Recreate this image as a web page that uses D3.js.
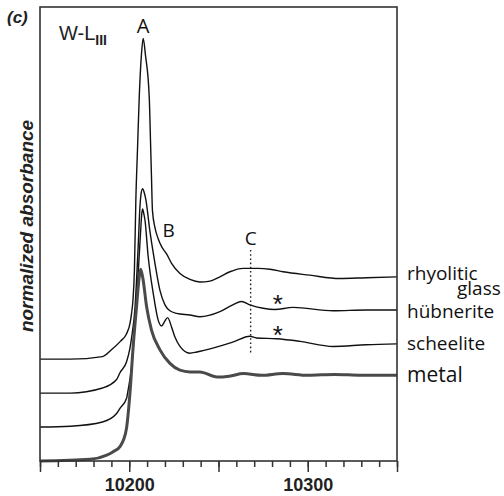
<!DOCTYPE html>
<html>
<head>
<meta charset="utf-8">
<script src="https://cdn.jsdelivr.net/npm/d3@7"></script>
<style>
  html, body { margin: 0; padding: 0; background: #fff; }
  svg { display: block; }
</style>
</head>
<body>
<svg id="chart" width="504" height="496"></svg>
<script>
// W L-III edge XANES spectra, normalized absorbance (stacked with vertical offsets)
const seriesNames = ["rhyolitic glass", "hübnerite", "scheelite", "metal"];
const seriesOffsets = [1.2, 0.8, 0.4, 0.0];

const rhyoliticE = [10150, 10167, 10185, 10190, 10195, 10198.5, 10200.4, 10201.3, 10202.1, 10202.9, 10203.7, 10204.6, 10205.6, 10206.8, 10207.8, 10209.1, 10211.2, 10211.9, 10212.5, 10213.0, 10214.4, 10216.2, 10218.3, 10220.9, 10223.7, 10228.4, 10234, 10239.6, 10245.2, 10250.8, 10256.4, 10263.8, 10272.2, 10278.8, 10286.2, 10301.1, 10317.9, 10332.8, 10350];
const rhyoliticMu = [0.00, 0.00, 0.03, 0.11, 0.21, 0.30, 0.42, 0.54, 0.70, 1.05, 1.88, 2.46, 3.09, 3.58, 3.78, 3.58, 3.09, 2.58, 2.11, 1.75, 1.55, 1.42, 1.32, 1.24, 1.13, 1.01, 0.94, 0.91, 0.92, 0.97, 1.03, 1.07, 1.07, 1.06, 1.03, 0.99, 0.95, 0.96, 0.97];

const hubneriteE = [10150, 10167, 10185, 10192.9, 10194.8, 10198.5, 10200.4, 10201.3, 10203.2, 10205.0, 10206.0, 10206.7, 10207.5, 10208.3, 10209.3, 10211.5, 10214.4, 10217.2, 10220.0, 10222.8, 10226.5, 10234, 10239.6, 10250.8, 10258.0, 10262.9, 10267.6, 10275.0, 10281.5, 10291.8, 10314.2, 10332.8, 10350];
const hubneriteMu = [0.00, 0.00, 0.06, 0.16, 0.24, 0.37, 0.53, 0.65, 1.00, 1.73, 2.20, 2.36, 2.41, 2.37, 2.28, 1.92, 1.53, 1.21, 1.04, 0.97, 0.94, 0.92, 0.90, 0.96, 1.04, 1.08, 1.04, 1.00, 0.985, 1.01, 0.97, 0.98, 0.98];

const scheeliteE = [10150, 10167, 10185, 10192.9, 10194.8, 10198.5, 10199.4, 10201.3, 10202.6, 10204.0, 10205.0, 10206.4, 10207.0, 10207.5, 10208.1, 10208.8, 10210.6, 10213.4, 10216.2, 10218.1, 10219.7, 10221.5, 10223.7, 10225.6, 10228.4, 10234.0, 10237.9, 10246.8, 10258.0, 10267.6, 10271.3, 10282.5, 10295.5, 10314.2, 10332.8, 10350];
const scheeliteMu = [0.00, 0.01, 0.06, 0.16, 0.22, 0.34, 0.44, 0.71, 1.03, 1.50, 1.81, 2.32, 2.51, 2.57, 2.52, 2.44, 2.01, 1.58, 1.26, 1.19, 1.24, 1.29, 1.18, 1.06, 0.95, 0.87, 0.885, 0.93, 1.00, 1.07, 1.05, 1.04, 1.01, 0.95, 0.97, 0.98];

const metalE = [10150, 10178.0, 10187.4, 10191.0, 10194.8, 10196.8, 10198.5, 10200.4, 10202.2, 10204.1, 10205.6, 10206.4, 10207.8, 10209.7, 10212.5, 10217.2, 10222.8, 10228.4, 10234.0, 10239.6, 10249.1, 10256.0, 10264.0, 10274.3, 10286.0, 10300.0, 10315.0, 10330.0, 10350];
const metalMu = [0.00, 0.02, 0.07, 0.11, 0.17, 0.25, 0.39, 0.80, 1.35, 1.82, 2.17, 2.26, 2.13, 1.82, 1.54, 1.31, 1.15, 1.07, 1.05, 1.05, 0.99, 1.00, 1.03, 1.01, 1.03, 1.01, 1.02, 1.01, 1.01];

const energyMajorTicks = [10150, 10200, 10250, 10300, 10350];
const energyTickLabels = [10200, 10300];
const featureC = 10268;

const energies = [rhyoliticE, hubneriteE, scheeliteE, metalE];
const absorbance = [rhyoliticMu, hubneriteMu, scheeliteMu, metalMu];

const svg = d3.select("#chart");
const plotLeft = 40, plotRight = 397, plotTop = 7, plotBottom = 461;

const x = d3.scaleLinear().domain([10150, 10350]).range([plotLeft, plotRight]);
const y = d3.scaleLinear().domain([0, 5.35]).range([plotBottom, plotTop]);

// Spectra
const line = d3.line()
  .x(d => x(d[0]))
  .y(d => y(d[1]))
  .curve(d3.curveMonotoneX);

seriesNames.forEach((name, i) => {
  const pts = energies[i].map((e, k) => [e, absorbance[i][k] + seriesOffsets[i]]);
  const isMetal = name === "metal";
  svg.append("path")
    .datum(pts)
    .attr("fill", "none")
    .attr("stroke", isMetal ? "#4a4a4a" : "#111")
    .attr("stroke-width", isMetal ? 3 : 1.4)
    .attr("stroke-linejoin", "round")
    .attr("d", line);
});

// Feature C marker
svg.append("line")
  .attr("x1", x(featureC)).attr("x2", x(featureC))
  .attr("y1", 250).attr("y2", 354)
  .attr("stroke", "#222")
  .attr("stroke-width", 1.4)
  .attr("stroke-dasharray", "1.6,2.6");

// Frame
svg.append("rect")
  .attr("x", plotLeft).attr("y", plotTop)
  .attr("width", plotRight - plotLeft).attr("height", plotBottom - plotTop)
  .attr("fill", "none")
  .attr("stroke", "#333")
  .attr("stroke-width", 1.6);

// Bottom axis: minor and major ticks
const minorAxis = d3.axisBottom(x)
  .tickValues(d3.range(10150, 10351, 10))
  .tickSize(6).tickFormat("");
const majorAxis = d3.axisBottom(x)
  .tickValues(energyMajorTicks)
  .tickSize(11).tickPadding(6)
  .tickFormat(d => energyTickLabels.includes(d) ? d : "");

[minorAxis, majorAxis].forEach(ax => {
  const g = svg.append("g").attr("transform", `translate(0,${plotBottom})`).call(ax);
  g.select(".domain").remove();
  g.selectAll(".tick line").attr("stroke", "#333").attr("stroke-width", 1.5);
  g.selectAll(".tick text")
    .attr("fill", "#222")
    .style("font-family", "'Liberation Sans', Arial, sans-serif")
    .style("font-weight", "bold")
    .style("font-size", "18px");
});

// Y axis title
svg.append("text")
  .attr("transform", "translate(33,226) rotate(-90)")
  .attr("text-anchor", "middle")
  .style("font-family", "'Liberation Sans', Arial, sans-serif")
  .style("font-weight", "bold")
  .style("font-style", "italic")
  .style("font-size", "19px")
  .attr("fill", "#222")
  .text("normalized absorbance");

// Panel tag
svg.append("text")
  .attr("x", 7).attr("y", 23)
  .style("font-family", "'Liberation Sans', Arial, sans-serif")
  .style("font-weight", "bold")
  .style("font-style", "italic")
  .style("font-size", "17px")
  .attr("fill", "#222")
  .text("(c)");

// Edge label W-L_III
const edge = svg.append("text")
  .attr("x", 59).attr("y", 40)
  .style("font-family", "'Liberation Sans', Arial, sans-serif")
  .style("font-size", "20px")
  .attr("fill", "#222");
edge.append("tspan").text("W-L");
edge.append("tspan")
  .attr("dy", 5)
  .style("font-size", "14px")
  .style("font-weight", "bold")
  .text("III");

// Feature labels
const featureFont = "'Open Sans', 'Noto Sans', sans-serif";
const features = [
  { t: "A", e: 10207.8, yy: 33, s: 20 },
  { t: "B", e: 10222.0, yy: 237, s: 19 },
  { t: "C", e: featureC, yy: 245, s: 19 }
];
features.forEach(f => {
  svg.append("text")
    .attr("x", x(f.e)).attr("y", f.yy)
    .attr("text-anchor", "middle")
    .style("font-family", featureFont)
    .style("font-size", f.s + "px")
    .attr("fill", "#111")
    .text(f.t);
});

// Asterisks marking post-edge features
[312.5, 343.5].forEach(yy => {
  svg.append("text")
    .attr("x", x(10283.2)).attr("y", yy)
    .attr("text-anchor", "middle")
    .style("font-family", "'Liberation Sans', Arial, sans-serif")
    .style("font-size", "26px")
    .attr("fill", "#111")
    .text("*");
});

// Series labels at the right
const labelX = 407;
const labelStyle = sel => sel
  .style("font-family", featureFont)
  .attr("fill", "#111");

// two-line label as a single text block
const glassLabel = svg.append("text")
  .attr("x", labelX).attr("y", 280)
  .style("font-size", "19px")
  .call(labelStyle);
glassLabel.append("tspan").attr("x", labelX).text("rhyolitic");
glassLabel.append("tspan").attr("x", 457).attr("dy", 15).text("glass");

const labels = [
  { t: "hübnerite", y: 318, s: 19 },
  { t: "scheelite", y: 350, s: 19 },
  { t: "metal", y: 382, s: 21 }
];
labels.forEach(l => {
  svg.append("text")
    .attr("x", labelX).attr("y", l.y)
    .style("font-size", l.s + "px")
    .call(labelStyle)
    .text(l.t);
});
</script>
</body>
</html>
